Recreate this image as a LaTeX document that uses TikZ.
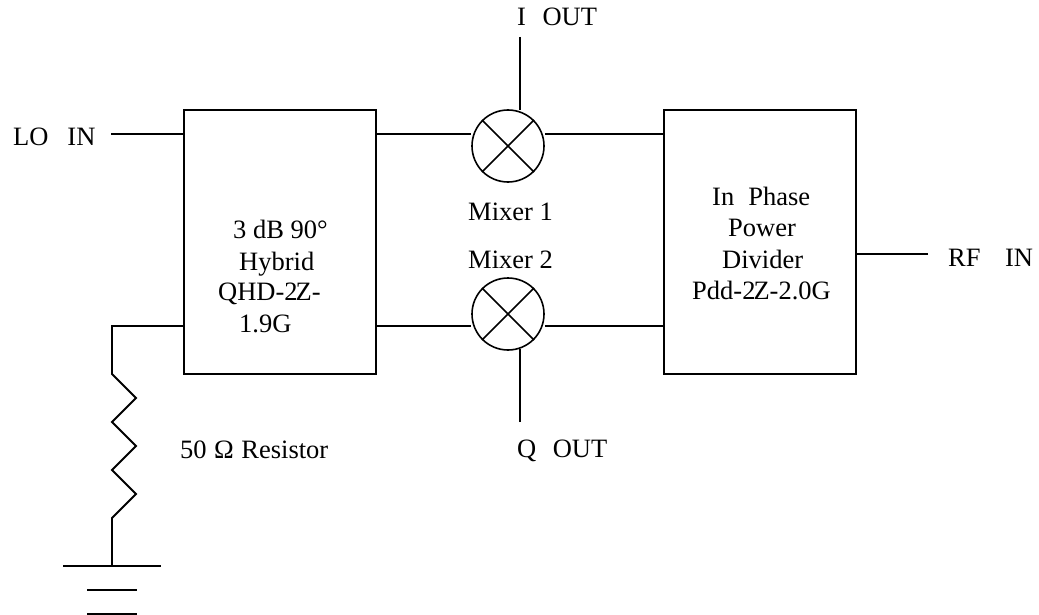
\documentclass[tikz,border=0pt]{standalone}
\usepackage{fontspec}
\setmainfont{Liberation Serif}
\begin{document}
\begin{tikzpicture}[x=1pt,y=-1pt,
  blockbox/.style={draw,line width=1.8pt,inner sep=0pt,minimum width=192pt,minimum height=264pt},
  mixerbox/.style={circle,draw,line width=1.6pt,minimum size=72pt,inner sep=0pt},
  lbl/.style={inner sep=0pt,anchor=base west,font=\fontsize{26.5}{33}\selectfont},
  wire/.style={line width=1.8pt}]
  \useasboundingbox (0,0) rectangle (1039,615);
  % Blocks
  \node[blockbox] (hybrid) at (280,242) {};
  \node[blockbox] (divider) at (760,242) {};
  % Hybrid text
  \node[lbl] (hybrida) at (233,238) {3 dB 90°};
  \node[lbl] (hybridb) at (239,270) {Hybrid};
  \node[lbl] (hybridc) at (218,300) {QHD-2\kern-2ptZ-};
  \node[lbl] (hybridd) at (239,332) {1.9G};
  % Divider text
  \node[lbl] (dividera) at (712,205) {In\hspace{14pt}Phase};
  \node[lbl] (dividerb) at (728,236) {Power};
  \node[lbl] (dividerc) at (722,268) {Divider};
  \node[lbl] (dividerd) at (692,299) {Pdd-2\kern-2ptZ-2.0G};
  % Mixers
  \node[mixerbox] (mixa) at (508,146) {};
  \node[mixerbox] (mixb) at (508,314) {};
  \draw[wire,line width=1.6pt] (mixa.north west) -- (mixa.south east) (mixa.north east) -- (mixa.south west);
  \draw[wire,line width=1.6pt] (mixb.north west) -- (mixb.south east) (mixb.north east) -- (mixb.south west);
  \node[lbl] (mixalbl) at (468,220) {Mixer 1};
  \node[lbl] (mixblbl) at (468,268) {Mixer 2};
  % Terminals
  \node[lbl] (lo) at (13,146) {LO\hspace{19pt}IN};
  \node[lbl] (iout) at (517,26) {I\hspace{16.5pt}OUT};
  \node[lbl] (qout) at (517,457) {Q\hspace{16.5pt}OUT};
  \node[lbl] (rf) at (948,266) {RF\hspace{24.5pt}IN};
  \node[lbl] (res) at (180,458) {50\hspace{7.5pt}Ω\hspace{7.5pt}Resistor};
  \coordinate (lostub) at (111,134);
  \coordinate (rfstub) at (928,254);
  \coordinate (itop) at (520,37);
  \coordinate (qbot) at (520,422);
  \coordinate (mixatop) at (520,110);
  \coordinate (mixbbot) at (520,349);
  \draw[wire] (lostub) -- (lostub -| hybrid.west);
  \draw[wire] (rfstub) -- (rfstub -| divider.east);
  \draw[wire] (itop) -- (mixatop);
  \draw[wire] (qbot) -- (mixbbot);
  % Mixer wires
  \coordinate (wireup) at (0,134);
  \coordinate (wiredn) at (0,326);
  \draw[wire] (wireup -| hybrid.east) -- (wireup -| mixa.west);
  \draw[wire] (wireup -| mixa.east) -- (wireup -| divider.west);
  \draw[wire] (wiredn -| hybrid.east) -- (wiredn -| mixb.west);
  \draw[wire] (wiredn -| mixb.east) -- (wiredn -| divider.west);
  % Resistor
  \coordinate (rtop) at (112,326);
  \coordinate (gnd) at (112,566);
  \draw[wire] (rtop -| hybrid.west) -- (rtop) -- (112,374) -- (136,398) -- (112,422) -- (136,446) -- (112,470) -- (136,494) -- (112,518) -- (gnd);
  \draw[wire] (63,566) -- (161,566);
  \draw[wire] (87,590) -- (137,590);
  \draw[wire] (87,614) -- (137,614);
\end{tikzpicture}
\end{document}
